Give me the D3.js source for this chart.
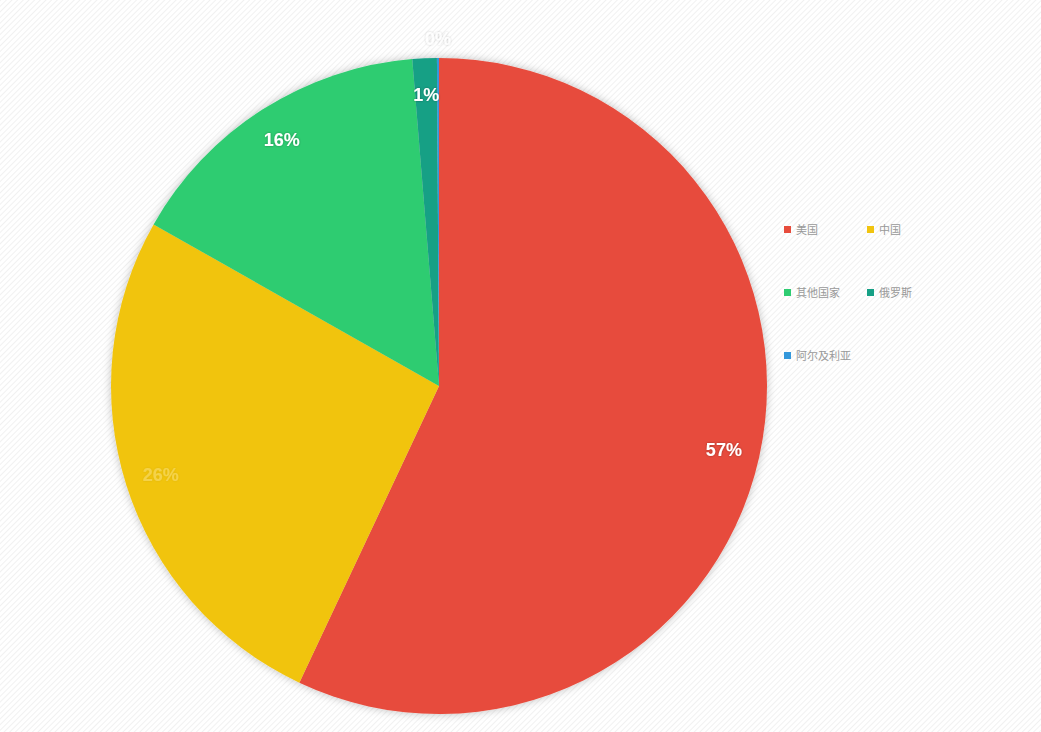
<!DOCTYPE html>
<html><head><meta charset="utf-8">
<script src="https://cdn.jsdelivr.net/npm/d3@7"></script>
<style>
body{margin:0;overflow:hidden;font-family:"Noto Sans CJK SC",sans-serif;}
</style></head>
<body><div id="chart"></div>
<script>
var categories = ["美国", "中国", "其他国家", "俄罗斯", "阿尔及利亚"];
var values = [57, 26.2, 15.5, 1.2, 0.1];
var colors = ["#e74c3c", "#f1c40f", "#2ecc71", "#16a085", "#3498db"];
var labelOpacity = [1, 0.25, 1, 1, 0.6];

var w = 1041, h = 732;
var cx = 439, cy = 386, r = 328;

var svg = d3.select("#chart").append("svg").attr("width", w).attr("height", h);
var defs = svg.append("defs");

var pat = defs.append("pattern").attr("id", "stripes")
  .attr("width", 4).attr("height", 4)
  .attr("patternUnits", "userSpaceOnUse")
  .attr("patternTransform", "rotate(45)");
pat.append("rect").attr("width", 4).attr("height", 4).attr("fill", "#ffffff");
pat.append("rect").attr("width", 1).attr("height", 4).attr("fill", "#f1f1f1");
svg.append("rect").attr("width", w).attr("height", h).attr("fill", "url(#stripes)");

var shadow = defs.append("filter").attr("id", "shadow")
  .attr("x", "-10%").attr("y", "-10%").attr("width", "120%").attr("height", "120%");
shadow.append("feDropShadow").attr("dx", 0).attr("dy", 0)
  .attr("stdDeviation", 4).attr("flood-color", "#000").attr("flood-opacity", 0.25);
var tshadow = defs.append("filter").attr("id", "tshadow");
tshadow.append("feDropShadow").attr("dx", 0).attr("dy", 0)
  .attr("stdDeviation", 1).attr("flood-color", "#000").attr("flood-opacity", 0.35);

var pie = d3.pie().sort(null).value(function(d) { return d; });
var arcs = pie(values);
var arc = d3.arc().innerRadius(0).outerRadius(r);

var g = svg.append("g").attr("transform", "translate(" + cx + "," + cy + ")");

g.append("g").attr("filter", "url(#shadow)")
  .selectAll("path").data(arcs).enter().append("path")
  .attr("d", arc)
  .attr("fill", function(d, i) { return colors[i]; });

var total = d3.sum(values);
g.selectAll("text.lbl").data(arcs).enter().append("text")
  .attr("class", "lbl")
  .attr("transform", function(d) {
    var a = (d.startAngle + d.endAngle) / 2;
    var rr = (d.endAngle - d.startAngle) < 0.02 ? r * 1.06 : r * 0.89;
    return "translate(" + Math.sin(a) * rr + "," + (-Math.cos(a) * rr) + ")";
  })
  .attr("text-anchor", "middle").attr("dy", "0.35em")
  .attr("fill", "#fff").attr("font-family", "Arial, 'Liberation Sans', sans-serif")
  .attr("font-weight", "bold").attr("font-size", 18)
  .attr("filter", "url(#tshadow)")
  .attr("opacity", function(d, i) { return labelOpacity[i]; })
  .text(function(d) { return Math.round(d.value / total * 100) + "%"; });

var legend = svg.append("g").attr("transform", "translate(784,224)");
var item = legend.selectAll("g").data(categories).enter().append("g")
  .attr("transform", function(d, i) {
    return "translate(" + (i % 2) * 83 + "," + Math.floor(i / 2) * 63 + ")";
  });
item.append("rect").attr("width", 7).attr("height", 7).attr("y", 2)
  .attr("fill", function(d, i) { return colors[i]; });
item.append("text").attr("x", 12).attr("y", 9.5)
  .attr("font-size", 11).attr("fill", "#999")
  .text(function(d) { return d; });
</script>
</body></html>
